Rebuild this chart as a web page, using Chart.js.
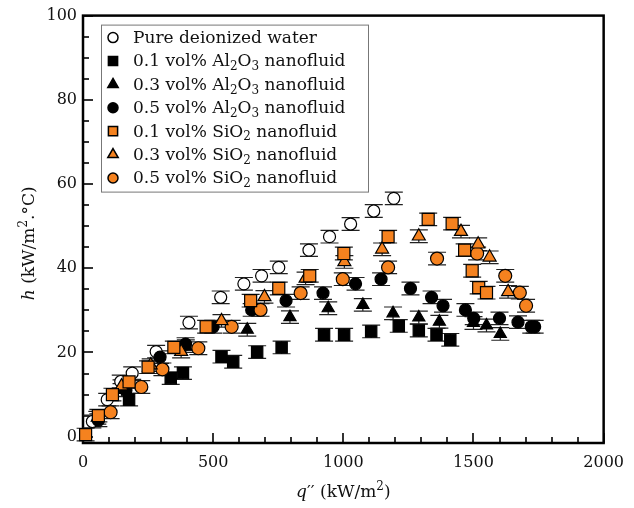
<!DOCTYPE html>
<html>
<head>
<meta charset="utf-8">
<script src="https://cdn.jsdelivr.net/npm/chart.js@4.4.0/dist/chart.umd.min.js"></script>
<style>
  html, body { margin: 0; padding: 0; background: #fff; }
  #wrap { width: 634px; height: 508px; }
</style>
</head>
<body>
<div id="wrap"><canvas id="chart" width="634" height="508"></canvas></div>
<script>
/* ===== DATA ===== */

// q'' (kW/m2) and h (kW/m2.C) per fluid
const WATER_Q = [36, 93, 145, 189, 281, 407, 529, 618, 686, 752, 868, 947, 1028, 1117, 1194];
const WATER_H = [3.6, 8.8, 13.1, 15.1, 20.2, 27.1, 33.1, 36.3, 38.2, 40.2, 44.3, 47.5, 50.5, 53.6, 56.6];

const AL01_Q = [177, 337, 384, 532, 577, 669, 763, 926, 1003, 1107, 1213, 1290, 1358, 1411];
const AL01_H = [8.8, 13.9, 15.1, 19, 17.8, 20.1, 21.2, 24.2, 24.2, 25, 26.3, 25.2, 24.2, 23];

const AL03_Q = [55, 148, 395, 631, 795, 942, 1075, 1191, 1290, 1369, 1500, 1550, 1603];
const AL03_H = [4.5, 11.1, 21.5, 25.4, 28.4, 30.5, 31.3, 29.3, 28.3, 27.3, 27, 26.4, 24.4];

const AL05_Q = [59, 165, 296, 394, 500, 648, 780, 922, 1047, 1145, 1258, 1339, 1383, 1469, 1501, 1600, 1671, 1722, 1735];
const AL05_H = [3.9, 11, 18.9, 22, 26.1, 30.1, 32.3, 34.1, 36.3, 37.4, 35.2, 33.1, 31.1, 30.1, 28.1, 28.1, 27.2, 26.1, 26.1];

const SI01_Q = [10, 59, 113, 177, 250, 349, 473, 644, 752, 871, 1002, 1172, 1326, 1418, 1466, 1495, 1520, 1550];
const SI01_H = [0.5, 5, 10, 13, 16.5, 21.2, 26.1, 32.3, 35.2, 38.2, 43.5, 47.5, 51.6, 50.6, 44.3, 39.4, 35.4, 34.2];

const SI03_Q = [148, 260, 377, 532, 697, 855, 1004, 1149, 1290, 1452, 1518, 1562, 1633];
const SI03_H = [12, 17, 20.2, 27.5, 33.2, 37.6, 41.5, 44.5, 47.6, 48.7, 45.7, 42.6, 34.4];

const SI05_Q = [106, 224, 305, 443, 571, 682, 836, 998, 1172, 1360, 1514, 1622, 1678, 1702];
const SI05_H = [5.8, 11.8, 16, 21, 26.1, 30.1, 34.1, 37.4, 40.2, 42.3, 43.5, 38.2, 34.2, 31.1];

const H_ERR = 1.5; // half length of the error bars

const X_MAJOR = [0, 500, 1000, 1500, 2000];
const X_MINOR = [100, 200, 300, 400, 600, 700, 800, 900, 1100, 1200, 1300, 1400, 1600, 1700, 1800, 1900];
const Y_MAJOR = [0, 20, 40, 60, 80, 100];
const Y_MINOR = [5, 10, 15, 25, 30, 35, 45, 50, 55, 65, 70, 75, 85, 90, 95];

// legend labels, split so subscripts can be drawn
const LABELS = [
  [['Pure deionized water']],
  [['0.1 vol% Al'], ['2', 'sub'], ['O'], ['3', 'sub'], [' nanofluid']],
  [['0.3 vol% Al'], ['2', 'sub'], ['O'], ['3', 'sub'], [' nanofluid']],
  [['0.5 vol% Al'], ['2', 'sub'], ['O'], ['3', 'sub'], [' nanofluid']],
  [['0.1 vol% SiO'], ['2', 'sub'], [' nanofluid']],
  [['0.3 vol% SiO'], ['2', 'sub'], [' nanofluid']],
  [['0.5 vol% SiO'], ['2', 'sub'], [' nanofluid']]
];
const X_TITLE = [['q', 'i'], ['\u2032\u2032'], [' (kW/m'], ['2', 'sup'], [')']];
const Y_TITLE = [['h', 'i'], [' (kW/m'], ['2', 'sup'], ['.\u00B0C)']];

/* ===== HELPERS ===== */

const FONT = "'DejaVu Serif', serif";
const ORANGE = '#f5821f';

const pts = (xs, ys) => xs.map((x, i) => ({ x: x, y: ys[i] }));

function partFont(style, size) {
  const s = (style === 'sub' || style === 'sup') ? Math.round(size * 0.7) : size;
  return (style === 'i' ? 'italic ' : '') + s + 'px ' + FONT;
}

function richWidth(ctx, parts, size) {
  let w = 0;
  parts.forEach(p => { ctx.font = partFont(p[1], size); w += ctx.measureText(p[0]).width; });
  return w;
}

function drawRich(ctx, parts, x, y, size, align) {
  let cx = align === 'center' ? x - richWidth(ctx, parts, size) / 2 : x;
  ctx.textBaseline = 'middle';
  ctx.textAlign = 'left';
  parts.forEach(p => {
    ctx.font = partFont(p[1], size);
    let dy = 0;
    if (p[1] === 'sub') dy = size * 0.3;
    if (p[1] === 'sup') dy = -size * 0.35;
    ctx.fillText(p[0], cx, y + dy);
    cx += ctx.measureText(p[0]).width;
  });
}

/* ===== PLUGIN: frame, ticks, error bars, legend, titles ===== */

const decor = {
  id: 'decor',
  beforeDatasetsDraw(chart) {
    const ctx = chart.ctx;
    const a = chart.chartArea;
    const xs = chart.scales.x, ys = chart.scales.y;
    ctx.save();
    ctx.strokeStyle = '#000';
    // ticks (inward)
    ctx.lineWidth = 1.6;
    const tick = (x1, y1, x2, y2) => { ctx.beginPath(); ctx.moveTo(x1, y1); ctx.lineTo(x2, y2); ctx.stroke(); };
    X_MAJOR.forEach(v => { const px = Math.round(xs.getPixelForValue(v)); tick(px, a.bottom, px, a.bottom - 10); });
    X_MINOR.forEach(v => { const px = Math.round(xs.getPixelForValue(v)); tick(px, a.bottom, px, a.bottom - 6); });
    Y_MAJOR.forEach(v => { const py = Math.round(ys.getPixelForValue(v)); tick(a.left, py, a.left + 10, py); });
    Y_MINOR.forEach(v => { const py = Math.round(ys.getPixelForValue(v)); tick(a.left, py, a.left + 6, py); });
    // frame
    ctx.lineWidth = 2.5;
    ctx.strokeRect(a.left, a.top, a.right - a.left, a.bottom - a.top);
    // error bars
    ctx.lineWidth = 1.2;
    ctx.strokeStyle = '#222';
    chart.data.datasets.forEach((ds, di) => {
      const meta = chart.getDatasetMeta(di);
      meta.data.forEach((el, i) => {
        const v = ds.data[i].y;
        const t = ys.getPixelForValue(v + H_ERR), b = ys.getPixelForValue(v - H_ERR);
        ctx.beginPath();
        ctx.moveTo(el.x, t); ctx.lineTo(el.x, b);
        ctx.moveTo(el.x - 9, t); ctx.lineTo(el.x + 9, t);
        ctx.moveTo(el.x - 9, b); ctx.lineTo(el.x + 9, b);
        ctx.stroke();
      });
    });
    ctx.restore();
  },
  afterDraw(chart) {
    const ctx = chart.ctx;
    const a = chart.chartArea;
    ctx.save();
    // legend box
    const bx = a.left + 18, by = a.top + 9, bw = 267, bh = 167;
    ctx.fillStyle = '#fff';
    ctx.fillRect(bx, by, bw, bh);
    ctx.strokeStyle = '#777';
    ctx.lineWidth = 1;
    ctx.strokeRect(bx + 0.5, by + 0.5, bw, bh);
    chart.data.datasets.forEach((ds, i) => {
      const y = by + 13 + i * 23.4;
      ctx.fillStyle = ds.backgroundColor;
      ctx.strokeStyle = ds.borderColor;
      ctx.lineWidth = 1.5;
      const r = ds.pointStyle === 'circle' ? 5 : (ds.pointStyle === 'rect' ? 6.5 : 6);
      Chart.helpers.drawPoint(ctx, { pointStyle: ds.pointStyle, rotation: 0, radius: r, borderWidth: 1.5 }, bx + 12, y);
      ctx.fillStyle = '#111';
      drawRich(ctx, LABELS[i], bx + 32, y + 1, 17, 'left');
    });
    // axis titles
    ctx.fillStyle = '#111';
    drawRich(ctx, X_TITLE, (a.left + a.right) / 2, 493, 17, 'center');
    ctx.translate(30, (a.top + a.bottom) / 2 + 14);
    ctx.rotate(-Math.PI / 2);
    drawRich(ctx, Y_TITLE, 0, 0, 17, 'center');
    ctx.restore();
  }
};

/* ===== CHART ===== */

function series(label, data, style, fill, radius, order) {
  return {
    label: label, data: data, pointStyle: style,
    backgroundColor: fill, borderColor: '#000', borderWidth: 1.2,
    pointRadius: radius, pointHoverRadius: radius, showLine: false, clip: false, order: order
  };
}

new Chart(document.getElementById('chart'), {
  type: 'scatter',
  data: {
    datasets: [
      series('Pure deionized water', pts(WATER_Q, WATER_H), 'circle', '#fff', 6, 2),
      series('0.1 vol% Al2O3 nanofluid', pts(AL01_Q, AL01_H), 'rect', '#000', 8, 1),
      series('0.3 vol% Al2O3 nanofluid', pts(AL03_Q, AL03_H), 'triangle', '#000', 7, 1),
      series('0.5 vol% Al2O3 nanofluid', pts(AL05_Q, AL05_H), 'circle', '#000', 6, 1),
      series('0.1 vol% SiO2 nanofluid', pts(SI01_Q, SI01_H), 'rect', ORANGE, 8.5, 0),
      series('0.3 vol% SiO2 nanofluid', pts(SI03_Q, SI03_H), 'triangle', ORANGE, 7.5, 0),
      series('0.5 vol% SiO2 nanofluid', pts(SI05_Q, SI05_H), 'circle', ORANGE, 6.5, 0)
    ]
  },
  options: {
    responsive: false,
    animation: false,
    layout: { padding: { top: 14, right: 29, left: 0, bottom: 0 } },
    plugins: { legend: { display: false }, tooltip: { enabled: false } },
    scales: {
      x: {
        type: 'linear', min: 0, max: 2000,
        grid: { display: false, drawTicks: false },
        border: { display: false },
        afterBuildTicks: s => { s.ticks = X_MAJOR.map(v => ({ value: v })); },
        afterFit: s => { s.height = 65; },
        ticks: { color: '#111', padding: 10, maxRotation: 0, font: { family: FONT, size: 16 }, callback: v => String(v) }
      },
      y: {
        type: 'linear', min: -1.5, max: 100,
        grid: { display: false, drawTicks: false },
        border: { display: false },
        afterBuildTicks: s => { s.ticks = Y_MAJOR.map(v => ({ value: v })); },
        afterFit: s => { s.width = 83; },
        ticks: { color: '#111', padding: 6, font: { family: FONT, size: 16 }, callback: v => String(v) }
      }
    }
  },
  plugins: [decor]
});
</script>
</body>
</html>
